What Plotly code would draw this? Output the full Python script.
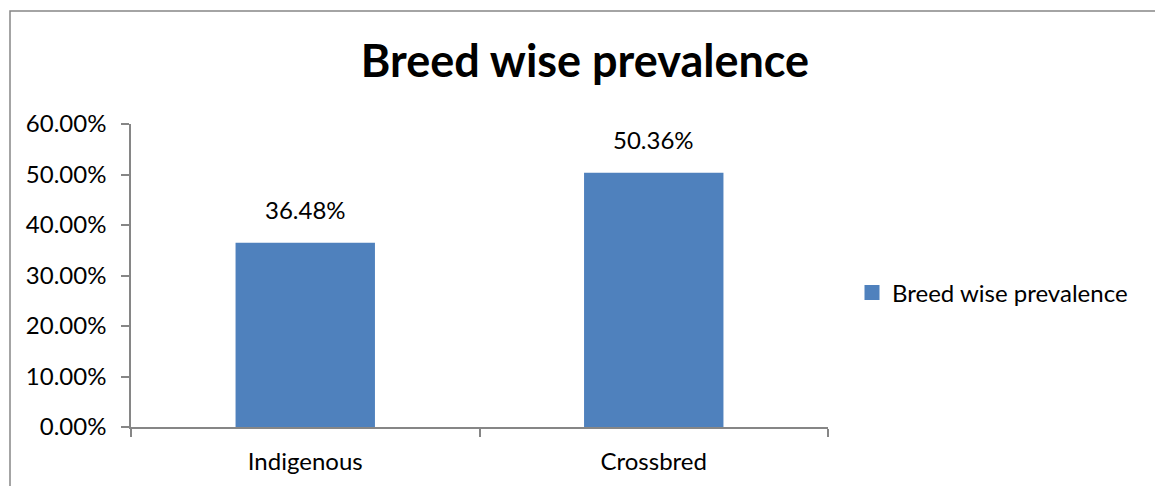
import plotly.graph_objects as go

# Prevalence by breed (percent)
breeds = ["Indigenous", "Crossbred"]
prevalence = [36.48, 50.36]
series_name = "Breed wise prevalence"
chart_title = "Breed wise prevalence"
y_ticks = [0, 10, 20, 30, 40, 50, 60]

W, H = 1155, 486
L, R, T, B = 131, 327, 124, 59
plot_w = W - L - R
plot_h = H - T - B

font_family = "Lato, Open Sans, sans-serif"
axis_gray = "#868686"
bar_blue = "#4F81BD"


def px_to_paper_x(px):
    return (px - L) / plot_w


def px_to_paper_y(py):
    return (H - B - py) / plot_h


fig = go.Figure()
fig.add_trace(go.Bar(
    x=breeds,
    y=prevalence,
    name=series_name,
    marker=dict(color=bar_blue, line=dict(width=0)),
    showlegend=False,
))

# Legend swatch for the series
fig.add_trace(go.Scatter(
    x=[None], y=[None],
    mode="markers",
    name=series_name,
    marker=dict(symbol="square", size=15, color=bar_blue),
    showlegend=True,
))

# Value labels above each bar
for b, v in zip(breeds, prevalence):
    fig.add_annotation(
        x=b, y=v, xref="x", yref="y",
        text=f"{v:.2f}%",
        showarrow=False,
        yanchor="bottom", yshift=17,
        font=dict(size=24, color="#000000", family=font_family),
    )

# Outer chart frame (right and bottom edges fall outside the page)
fig.add_shape(
    type="rect", xref="paper", yref="paper",
    x0=px_to_paper_x(10), x1=px_to_paper_x(W + 20),
    y0=px_to_paper_y(H + 20), y1=px_to_paper_y(11),
    line=dict(color=axis_gray, width=1.5),
    fillcolor="rgba(0,0,0,0)", layer="below",
)

fig.update_layout(
    width=W, height=H,
    margin=dict(l=L, r=R, t=T, b=B),
    paper_bgcolor="white",
    plot_bgcolor="white",
    bargap=0.6,
    title=dict(
        text=f"<b>{chart_title}</b>",
        x=585 / W, xanchor="center",
        y=1 - 61 / H, yanchor="middle",
        font=dict(size=45, color="#000000", family=font_family),
    ),
    legend=dict(
        x=px_to_paper_x(852), xanchor="left",
        y=px_to_paper_y(293), yanchor="middle",
        font=dict(size=24, color="#000000", family=font_family),
        itemsizing="trace",
        bgcolor="rgba(0,0,0,0)",
    ),
    xaxis=dict(
        showline=True, linecolor=axis_gray, linewidth=1.5,
        ticks="outside", tickson="boundaries", ticklen=8,
        tickcolor=axis_gray, tickwidth=1.5,
        ticklabelstandoff=12,
        tickfont=dict(size=24, color="#000000", family=font_family),
        showgrid=False, zeroline=False,
    ),
    yaxis=dict(
        range=[0, 60],
        tickvals=y_ticks,
        ticktext=[f"{v:.2f}%" for v in y_ticks],
        showline=True, linecolor=axis_gray, linewidth=1.5,
        ticks="outside", ticklen=8, tickcolor=axis_gray, tickwidth=1.5,
        ticklabelstandoff=10,
        tickfont=dict(size=24, color="#000000", family=font_family),
        showgrid=False, zeroline=False,
    ),
)

fig.write_html("out.html")
